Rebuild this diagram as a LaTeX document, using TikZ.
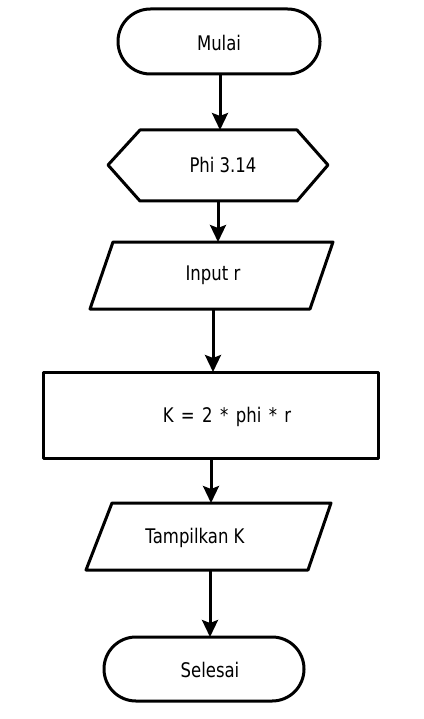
\documentclass[tikz,border=0pt]{standalone}
\usepackage{fontspec}
\setmainfont{DejaVu Sans}
\usetikzlibrary{arrows.meta}
\newcommand{\wsp}{\hspace{0.45em}}
\newcommand{\tall}[1]{\scalebox{1}[1.22]{#1}}
\begin{document}
\begin{tikzpicture}[x=1pt,y=-1pt,
  shapeline/.style={line width=3pt, line join=round},
  lbl/.style={font=\fontsize{16.5}{19}\selectfont, inner sep=0pt, anchor=center},
  conn/.style={line width=3pt, -{Stealth[length=17pt,width=16pt,inset=3pt]}}]
\useasboundingbox (0,0) rectangle (423,719);
% Mulai
\draw[shapeline, rounded corners=32.4pt] (118,9) rectangle (320,74);
\node[lbl] (mulai) at (219,43) {\tall{Mulai}};
\coordinate (mulaiS) at (220,74);
% Phi
\draw[shapeline] (108,165) -- (140,130) -- (297,130) -- (328,165) -- (297,201) -- (140,201) -- cycle;
\node[lbl] (phi) at (223,165) {\tall{Phi 3.14}};
\coordinate (phiN) at (220,130);
\coordinate (phiS) at (218,201);
% Input r
\draw[shapeline] (113,242) -- (333,242) -- (310,309) -- (90,309) -- cycle;
\node[lbl] (input) at (213,275) {\tall{Input r}};
\coordinate (inputN) at (218,242);
\coordinate (inputS) at (213,309);
% Process
\draw[shapeline] (43,372) rectangle (378,458);
\node[lbl] (proc) at (227,417) {\tall{K\wsp=\wsp2\wsp*\wsp phi\wsp*\wsp r}};
\coordinate (procN) at (213,372);
\coordinate (procS) at (211,458);
% Tampilkan
\draw[shapeline] (112,503) -- (331,503) -- (308,570) -- (86,570) -- cycle;
\node[lbl] (out) at (195,538) {\tall{Tampilkan K}};
\coordinate (outN) at (211,503);
\coordinate (outS) at (210,570);
% Selesai
\draw[shapeline, rounded corners=31.9pt] (104,637) rectangle (304,701);
\node[lbl] (selesai) at (210,670) {\tall{Selesai}};
\coordinate (selesaiN) at (210,637);
% connectors
\draw[conn] (mulaiS) -- (phiN);
\draw[conn] (phiS) -- (inputN);
\draw[conn] (inputS) -- (procN);
\draw[conn] (procS) -- (outN);
\draw[conn] (outS) -- (selesaiN);
\end{tikzpicture}
\end{document}
